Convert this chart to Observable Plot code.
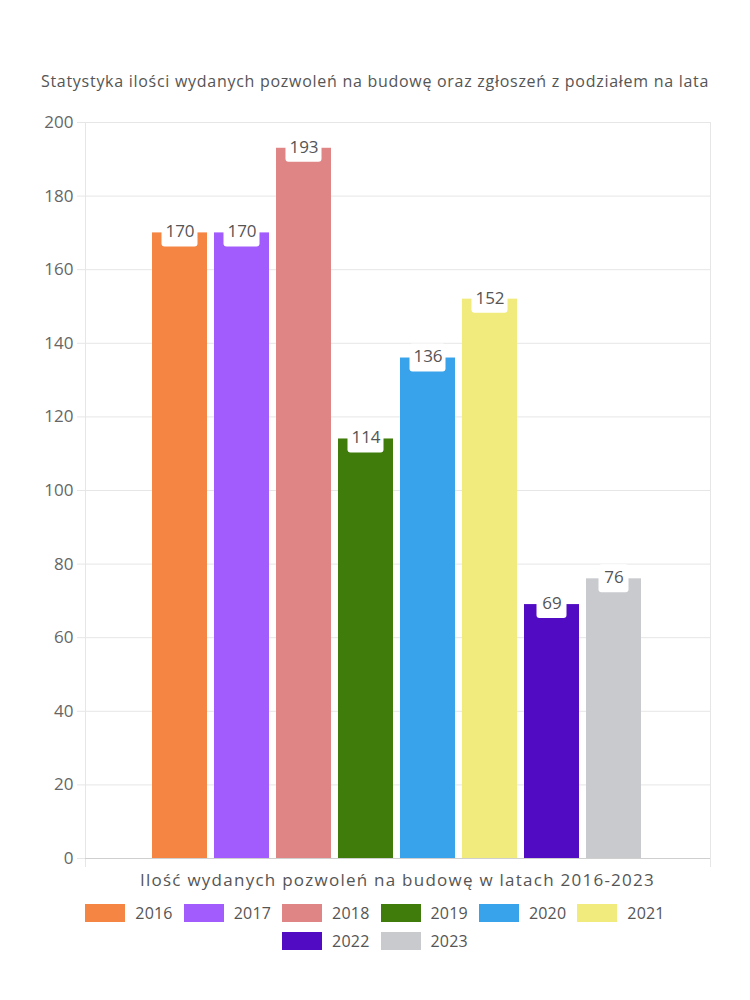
<!DOCTYPE html>
<html>
<head>
<meta charset="utf-8">
<script src="https://cdn.jsdelivr.net/npm/d3@7"></script>
<script src="https://cdn.jsdelivr.net/npm/@observablehq/plot@0.6"></script>
<style>
  html, body { margin: 0; padding: 0; background: #fff; }
  body { width: 750px; font-family: "Open Sans", Lato, sans-serif; color: #555; }
  #title { box-sizing: border-box; height: 100px; padding-top: 71px; line-height: 20px; font-size: 16px; letter-spacing: 0.72px; text-align: center; color: #555; white-space: nowrap; }
  #chart svg { display: block; }
  #xlabel { box-sizing: border-box; height: 20px; line-height: 20px; font-size: 17px; letter-spacing: 1.25px; text-align: center; color: #555; white-space: nowrap; padding-left: 45px; }
  #legend { margin-top: 9px; }
  .row { display: flex; justify-content: center; height: 28px; gap: 11px; }
  .item { display: flex; align-items: center; height: 28px; font-size: 16px; letter-spacing: 0.2px; color: #555; }
  .sw { width: 40px; height: 18px; margin-right: 10px; flex: none; }
</style>
</head>
<body>
<div id="title">Statystyka ilości wydanych pozwoleń na budowę oraz zgłoszeń z podziałem na lata</div>
<div id="chart"></div>
<div id="xlabel">Ilość wydanych pozwoleń na budowę w latach 2016-2023</div>
<div id="legend"></div>
<script>
const years = ["2016", "2017", "2018", "2019", "2020", "2021", "2022", "2023"];
const values = [170, 170, 193, 114, 136, 152, 69, 76];
const colors = ["#f58542", "#a25bfc", "#e08585", "#3f7c0c", "#38a3ea", "#f0eb7c", "#510bc2", "#c9cace"];
const yTicks = [0, 20, 40, 60, 80, 100, 120, 140, 160, 180, 200];

const data = years.map((year, i) => ({year, value: values[i]}));
const big = data.filter(d => d.value >= 100);
const small = data.filter(d => d.value < 100);

const chart = Plot.plot({
  width: 750,
  height: 770,
  marginTop: 22,
  marginBottom: 12,
  marginLeft: 85,
  marginRight: 40,
  style: {fontFamily: "'Open Sans', Lato, sans-serif", background: "white"},
  x: {domain: years, range: [150, 644], paddingInner: 0.105, paddingOuter: 0, axis: null},
  y: {domain: [0, 200], axis: null},
  color: {domain: years, range: colors},
  marks: [
    Plot.gridY(yTicks, {stroke: "#e6e6e6", strokeOpacity: 1}),
    Plot.axisY(yTicks, {tickSize: 8, tickPadding: 4, stroke: "#e6e6e6", fill: "#666", fontSize: 17, label: null}),
    Plot.frame({anchor: "left", stroke: "#e6e6e6", insetBottom: -8}),
    Plot.frame({anchor: "right", stroke: "#e6e6e6", insetBottom: -8}),
    Plot.barY(data, {x: "year", y: "value", fill: "year"}),
    Plot.ruleY([0], {stroke: "#cfcfcf"}),
    Plot.barY(big, {x: "year", y1: "value", y2: "value", fill: "white", insetTop: -14, insetBottom: -14, insetLeft: 9.5, insetRight: 9.5, rx: 3}),
    Plot.barY(small, {x: "year", y1: "value", y2: "value", fill: "white", insetTop: -14, insetBottom: -14, insetLeft: 12.5, insetRight: 12.5, rx: 3}),
    Plot.text(data, {x: "year", y: "value", text: d => String(d.value), fill: "#555", fontSize: 17, dy: -1})
  ]
});
document.getElementById("chart").appendChild(chart);

const legend = document.getElementById("legend");
const rows = [years.slice(0, 6), years.slice(6)];
rows.forEach(rowYears => {
  const row = document.createElement("div");
  row.className = "row";
  rowYears.forEach(y => {
    const i = years.indexOf(y);
    const item = document.createElement("div");
    item.className = "item";
    const sw = document.createElement("span");
    sw.className = "sw";
    sw.style.background = colors[i];
    const t = document.createElement("span");
    t.textContent = y;
    item.appendChild(sw);
    item.appendChild(t);
    row.appendChild(item);
  });
  legend.appendChild(row);
});
</script>
</body>
</html>
